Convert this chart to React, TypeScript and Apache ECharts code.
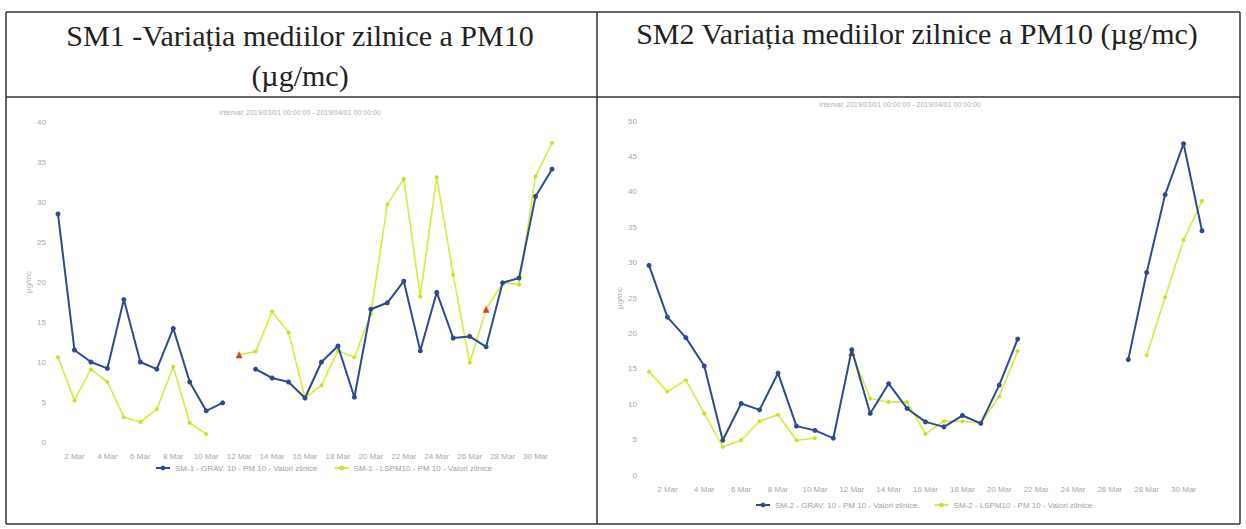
import React, { useEffect, useRef } from "react";
import * as echarts from "echarts";

const days: string[] = Array.from({ length: 31 }, (_, i) => `${i + 1} Mar`);

const sm1Grav: (number | null)[] = [28.5, 11.5, 10.0, 9.2, 17.8, 10.0, 9.1, 14.2, 7.5, 3.9, 4.9, null, 9.1, 8.0, 7.5, 5.5, 10.0, 12.0, 5.6, 16.6, 17.4, 20.1, 11.4, 18.7, 13.0, 13.2, 11.9, 19.9, 20.5, 30.7, 34.1];
const sm1Lspm: (number | null)[] = [10.6, 5.2, 9.1, 7.5, 3.1, 2.5, 4.1, 9.4, 2.4, 1.0, null, 10.9, 11.3, 16.3, 13.7, 5.5, 7.1, 11.4, 10.6, 16.0, 29.7, 32.9, 18.2, 33.1, 20.9, 9.9, 16.6, 19.9, 19.7, 33.2, 37.4];
const sm1Flagged: number[] = [11, 26];

const sm2Grav: (number | null)[] = [29.6, 22.3, 19.4, 15.4, 4.9, 10.1, 9.2, 14.4, 6.9, 6.3, 5.2, 17.7, 8.7, 12.9, 9.4, 7.5, 6.8, 8.4, 7.3, 12.7, 19.2, null, null, null, null, null, 16.3, 28.6, 39.6, 46.8, 34.5];
const sm2Lspm: (number | null)[] = [14.6, 11.8, 13.4, 8.7, 4.0, 4.9, 7.6, 8.5, 4.9, 5.2, null, 17.3, 10.8, 10.3, 10.3, 5.8, 7.6, 7.6, 7.3, 11.1, 17.5, null, null, null, null, null, null, 16.9, 25.1, 33.2, 38.7];
const sm2Flagged: number[] = [11];

const names1 = ["SM-1 - GRAV. 10 - PM 10 - Valori zilnice", "SM-1 - LSPM10 - PM 10 - Valori zilnice"];
const names2 = ["SM-2 - GRAV. 10 - PM 10 - Valori zilnice", "SM-2 - LSPM10 - PM 10 - Valori zilnice"];
const subtitle = "Interval: 2019/03/01 00:00:00 - 2019/04/01 00:00:00";

const BLUE = "#2d4b8e";
const YELLOW = "#d6ec3c";
const RED = "#d8432c";

function withFlags(vals: (number | null)[], flagged: number[]) {
  return vals.map((v, i) =>
    flagged.includes(i) && v !== null
      ? { value: v, symbol: "triangle", symbolSize: 7, itemStyle: { color: RED } }
      : v
  );
}

export default function App() {
  const ref = useRef<HTMLDivElement>(null);
  useEffect(() => {
    if (!ref.current) return;
    const chart = echarts.init(ref.current, null, { renderer: "svg" });
    const axisLabelStyle = { color: "#a8a8a8", fontSize: 8, fontFamily: "Liberation Sans" };
    const xAxisCommon = (gi: number) => ({
      type: "category",
      gridIndex: gi,
      data: days,
      boundaryGap: false,
      axisLine: { show: false },
      axisTick: { show: false },
      axisLabel: { ...axisLabelStyle, interval: (idx: number) => idx % 2 === 1, margin: 10 },
      splitLine: { show: false },
    });
    const yAxisCommon = (gi: number, max: number) => ({
      type: "value",
      gridIndex: gi,
      min: 0,
      max,
      interval: 5,
      name: "µg/mc",
      nameLocation: "middle",
      nameRotate: 90,
      nameGap: 26,
      nameTextStyle: { color: "#b0b0b0", fontSize: 8 },
      axisLine: { show: false },
      axisTick: { show: false },
      axisLabel: { ...axisLabelStyle, margin: 12 },
      splitLine: { show: false },
    });
    const blueSeries = (name: string, data: any[], gi: number) => ({
      name,
      type: "line",
      xAxisIndex: gi,
      yAxisIndex: gi,
      data,
      connectNulls: false,
      showSymbol: true,
      showAllSymbol: true,
      symbol: "circle",
      symbolSize: 5,
      lineStyle: { color: BLUE, width: 2 },
      itemStyle: { color: BLUE },
      z: 3,
    });
    const yellowSeries = (name: string, data: any[], gi: number) => ({
      name,
      type: "line",
      xAxisIndex: gi,
      yAxisIndex: gi,
      data,
      connectNulls: false,
      showSymbol: true,
      showAllSymbol: true,
      symbol: "circle",
      symbolSize: 4,
      lineStyle: { color: YELLOW, width: 1.6 },
      itemStyle: { color: "#c8e02a" },
      z: 2,
    });
    const titleFont = { fontFamily: "Liberation Serif", fontSize: 30, fill: "#222" };
    const borderStyle = { stroke: "#333", lineWidth: 1.5 };
    chart.setOption({
      animation: false,
      backgroundColor: "#ffffff",
      grid: [
        { left: 58, width: 494, top: 122, height: 320 },
        { left: 649, width: 553, top: 121, height: 354 },
      ],
      xAxis: [xAxisCommon(0), xAxisCommon(1)],
      yAxis: [yAxisCommon(0, 40), yAxisCommon(1, 50)],
      legend: [
        {
          data: names1,
          left: 150,
          top: 459,
          itemWidth: 14,
          itemHeight: 6,
          itemGap: 16,
          textStyle: { color: "#a0a0a0", fontSize: 8 },
        },
        {
          data: names2,
          left: 750,
          top: 496,
          itemWidth: 14,
          itemHeight: 6,
          itemGap: 16,
          textStyle: { color: "#a0a0a0", fontSize: 8 },
        },
      ],
      series: [
        blueSeries(names1[0], sm1Grav, 0),
        yellowSeries(names1[1], withFlags(sm1Lspm, sm1Flagged), 0),
        blueSeries(names2[0], sm2Grav, 1),
        yellowSeries(names2[1], withFlags(sm2Lspm, sm2Flagged), 1),
      ],
      graphic: [
        { type: "line", shape: { x1: 6, y1: 12, x2: 1240, y2: 12 }, style: borderStyle },
        { type: "line", shape: { x1: 6, y1: 97, x2: 1240, y2: 97 }, style: borderStyle },
        { type: "line", shape: { x1: 6, y1: 524, x2: 1240, y2: 524 }, style: borderStyle },
        { type: "line", shape: { x1: 6, y1: 12, x2: 6, y2: 524 }, style: borderStyle },
        { type: "line", shape: { x1: 597, y1: 12, x2: 597, y2: 524 }, style: borderStyle },
        { type: "line", shape: { x1: 1240, y1: 12, x2: 1240, y2: 524 }, style: borderStyle },
        {
          type: "text",
          x: 300,
          y: 35,
          style: { ...titleFont, text: "SM1 -Variația mediilor zilnice a PM10", textAlign: "center", textVerticalAlign: "middle" },
        },
        {
          type: "text",
          x: 300,
          y: 75,
          style: { ...titleFont, text: "(µg/mc)", textAlign: "center", textVerticalAlign: "middle" },
        },
        {
          type: "text",
          x: 917,
          y: 33,
          style: { ...titleFont, text: "SM2 Variația mediilor zilnice a PM10 (µg/mc)", textAlign: "center", textVerticalAlign: "middle" },
        },
        {
          type: "text",
          x: 300,
          y: 112,
          style: { text: subtitle, fill: "#b0b0b0", fontSize: 7, fontFamily: "Liberation Sans", textAlign: "center", textVerticalAlign: "middle" },
        },
        {
          type: "text",
          x: 900,
          y: 104,
          style: { text: subtitle, fill: "#b0b0b0", fontSize: 7, fontFamily: "Liberation Sans", textAlign: "center", textVerticalAlign: "middle" },
        },
      ],
    });
    return () => chart.dispose();
  }, []);
  return (
    <div
      ref={ref}
      style={{ position: "fixed", left: 0, top: 0, width: 1246, height: 529 }}
    />
  );
}
